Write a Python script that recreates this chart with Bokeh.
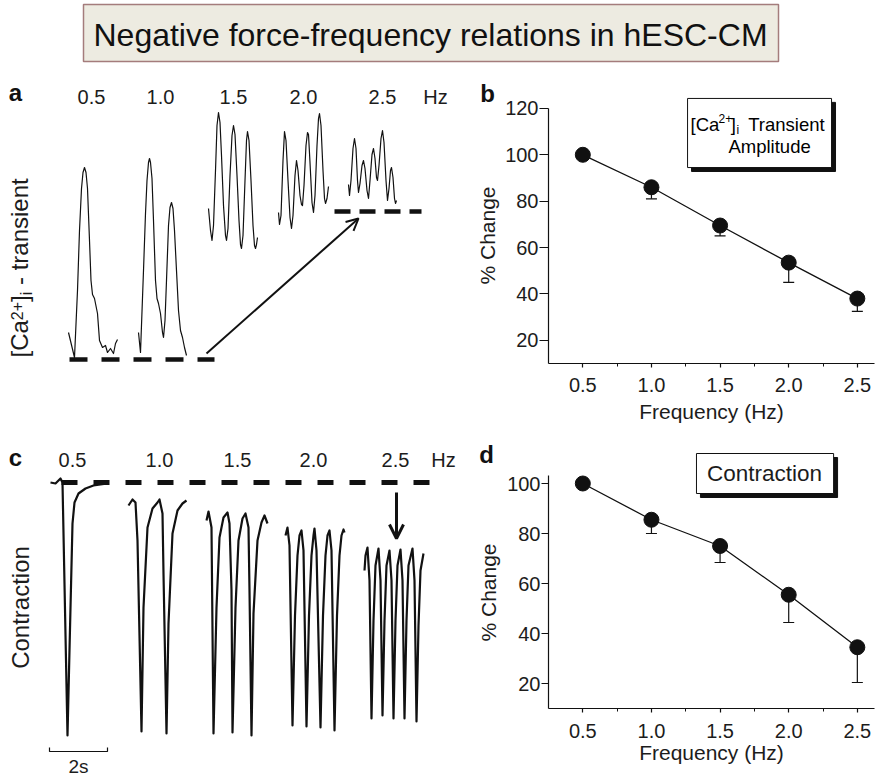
import math
from bokeh.plotting import figure
from bokeh.layouts import column, row
from bokeh.models import (Range1d, Arrow, OpenHead, Label, BoxAnnotation, Whisker,
                          TeeHead, FixedTicker, ColumnDataSource, PrintfTickFormatter)
from bokeh.embed import file_html
from bokeh.resources import INLINE
from bokeh.core.properties import value

FONT = "Liberation Sans"
INK = "#111111"
TXT = "#1c1c1c"

TITLE = "Negative force-frequency relations in hESC-CM"

# ---------------- data ----------------
freq = [0.5, 1.0, 1.5, 2.0, 2.5]
freq_labels = ["0.5", "1.0", "1.5", "2.0", "2.5", "Hz"]

# panel b: [Ca2+]i transient amplitude (% change) and lower error ends
ca_amp = [100, 86, 69.5, 53.5, 38]
ca_amp_low = [100, 81, 65, 45, 32.5]
# panel d: contraction (% change) and lower error ends
contr_amp = [100, 85.5, 75, 55.5, 34.5]
contr_amp_low = [100, 80, 68.4, 44.4, 20.4]

# panel a: calcium transient traces (time a.u., signal a.u.)
ca05_t = [68, 74, 77, 79, 81, 82.5, 84, 85.5, 87, 89, 90.5, 92, 94, 97, 99, 102, 105, 107, 110, 113, 115, 117]
ca05_s = [88, 63, 130, 190, 232, 248, 253, 248, 232, 180, 140, 126, 122, 107, 80, 73, 75, 68, 72, 67, 77, 81]
ca10_t = [138, 140, 143, 145, 146.5, 148, 149, 150, 151.5, 153, 155, 156.5, 158, 160, 162, 163, 164.5,
          166, 168, 169.5, 171, 172.5, 174, 176, 178, 180, 182, 184, 186]
ca10_s = [88, 68, 150, 207, 240, 258, 262, 258, 242, 200, 140, 122, 117, 107, 88, 83, 100,
          140, 195, 213, 218, 212, 190, 150, 110, 90, 83, 73, 65]
ca15_t = [208, 210, 211.5, 213, 215, 216.5, 218, 219.5, 221, 223, 225, 226, 227.5, 229.5, 231.5, 233,
          234.5, 236.5, 238.5, 240, 241, 242.5, 244.5, 246, 247, 248.5, 250.5, 252.5, 254, 255, 256, 257]
ca15_s = [212, 190, 180, 195, 250, 295, 308, 298, 265, 215, 185, 180, 192, 245, 285, 295,
          286, 245, 200, 176, 172, 185, 240, 280, 289, 280, 240, 195, 175, 172, 176, 183]
ca20_t = [278, 279, 280.5, 282.5, 284, 285.5, 287.5, 289.5, 291, 292.5, 294.5, 296, 297.5, 299.5, 301,
          302, 303.5, 305.5, 307, 308, 309.5, 311.5, 313, 314.5, 316.5, 318, 319, 320.5, 322.5, 324,
          325, 326.5, 328]
ca20_s = [208, 196, 205, 260, 289, 280, 240, 203, 192, 205, 245, 260, 250, 225, 216,
          215, 235, 275, 288, 286, 258, 218, 208, 225, 275, 302, 307, 295, 250, 222,
          217, 222, 234]
ca25_t = [348, 349, 350.5, 352.5, 354, 355.5, 357, 358, 359.5, 361.5, 363, 364.5, 366.5, 368, 369.5,
          371.5, 373, 374.5, 376, 377, 378.5, 380.5, 382, 383.5, 385.5, 387, 388.5, 390, 391, 392.5,
          394, 395, 396]
ca25_s = [236, 225, 240, 272, 282, 272, 240, 228, 237, 255, 260, 252, 230, 222, 240,
          266, 272, 262, 243, 240, 255, 282, 290, 278, 240, 220, 232, 250, 253, 243,
          222, 217, 220]

# panel c: contraction traces (time a.u., signal a.u.)
ct05_t = [50, 55, 60, 62, 67, 70, 72, 74, 78, 85, 93, 107]
ct05_s = [295, 294, 299, 295, 42, 170, 254, 275, 284, 289, 292, 294]
ct10_t = [128, 132, 135, 137, 141, 143, 147, 152, 157, 159, 162, 163, 166, 168, 172, 177, 182, 186]
ct10_s = [272, 278, 275, 237, 46, 170, 250, 269, 275, 278, 264, 204, 44, 154, 244, 267, 274, 277]
ct15_t = [206, 208, 211, 213, 216, 219, 223, 227, 229, 231, 232, 235, 238, 242, 245, 248, 249, 251, 253, 257, 261, 264, 267]
ct15_s = [257, 266, 250, 44, 170, 240, 260, 265, 254, 187, 45, 170, 237, 259, 264, 250, 187, 42, 164, 237, 255, 262, 254]
ct20_t = [285, 287, 289, 292, 294.5, 297, 299, 301, 303, 306, 308.5, 311, 313, 314, 316, 320, 322.5, 325, 327, 329, 331, 334, 336.5, 339, 341, 343, 344]
ct20_s = [242, 250, 232, 52, 162, 222, 242, 247, 227, 51, 162, 222, 242, 249, 227, 50, 162, 222, 242, 247, 227, 47, 162, 222, 242, 248, 245]
ct25_t = [364, 365, 367, 369, 371, 373, 375, 378, 380, 382, 384, 386, 389, 391, 393, 395, 397, 400, 402, 404, 406, 408, 412, 414, 416, 418, 420, 423]
ct25_s = [207, 222, 230, 197, 59, 157, 212, 229, 197, 62, 157, 212, 227, 197, 59, 157, 212, 228, 197, 59, 157, 212, 229, 197, 56, 152, 207, 224]


def blank(w, h, xr, yr):
    f = figure(width=w, height=h, x_range=Range1d(*xr), y_range=Range1d(*yr),
               output_backend="svg", toolbar_location=None, min_border=0,
               x_axis_location=None, y_axis_location=None)
    f.grid.visible = False
    f.outline_line_color = None
    f.background_fill_color = "white"
    f.border_fill_color = "white"
    return f


def txt(p, xs, ys, texts, size, angle=0.0, align="center", bold=False, color=TXT):
    p.text(x=xs, y=ys, text=texts, angle=angle, text_font=value(FONT), text_font_size=size,
           text_font_style="bold" if bold else "normal", text_align=align,
           text_baseline="middle", text_color=color)


# ---------------- title ----------------
t = blank(877, 65, (0, 877), (0, 65))
t.add_layout(BoxAnnotation(left=83, right=778, bottom=4, top=61, fill_color="#EDEBE1",
                           fill_alpha=1, line_color="#A47C7C", line_width=1.5, line_alpha=1))
t.add_layout(Label(x=430, y=30.5, text=TITLE, text_font=FONT, text_font_size="32px",
                   text_align="center", text_baseline="middle", text_color=INK))

rot = math.pi / 2
LEFT_W = 502

# ---------------- panel a (plus the letter and y title of panel b) ----------------
pa = blank(LEFT_W, 365, (0, LEFT_W), (-10, 355))
for tt, ss in [(ca05_t, ca05_s), (ca10_t, ca10_s), (ca15_t, ca15_s), (ca20_t, ca20_s), (ca25_t, ca25_s)]:
    pa.line(tt, ss, line_color=INK, line_width=1.2, line_join="round")
pa.line([69, 214], [61, 61], line_color=INK, line_width=4.5, line_dash="18 14")
pa.line([334, 421], [209, 209], line_color=INK, line_width=4.5, line_dash="16 9")
pa.add_layout(Arrow(end=OpenHead(size=12, line_width=2, line_color=INK), x_start=206, y_start=67,
                    x_end=358, y_end=202, line_width=2, line_color=INK))
txt(pa, [91, 160, 233, 303, 382, 435], [324] * 6, freq_labels, "20px")
txt(pa, [15, 487], [328, 327.3], ["a", "b"], "24px", bold=True, color=INK)
# rotated y label [Ca2+]i - transient
txt(pa, [18.7, 18.7], [63, 118.5], ["[Ca", "]"], "24px", angle=rot, align="left")
txt(pa, [16.5], [100.3], ["2+"], "16px", angle=rot, align="left")
txt(pa, [25.5], [125.2], ["i"], "16px", angle=rot, align="left")
txt(pa, [18.7], [135.5], ["- transient"], "24px", angle=rot, align="left")
txt(pa, [487], [185], ["% Change"], "21px", angle=rot)

# ---------------- panel c (plus the letter and y title of panel d) ----------------
pc = blank(LEFT_W, 347, (0, LEFT_W), (0, 347))
for tt, ss in [(ct05_t, ct05_s), (ct10_t, ct10_s), (ct15_t, ct15_s), (ct20_t, ct20_s), (ct25_t, ct25_s)]:
    pc.line(tt, ss, line_color=INK, line_width=2.2, line_join="round")
pc.line([61, 429], [295, 295], line_color=INK, line_width=5, line_dash="16 16")
pc.add_layout(Arrow(end=OpenHead(size=14, line_width=3, line_color=INK), x_start=396, y_start=285,
                    x_end=396, y_end=239, line_width=3, line_color=INK))
txt(pc, [72, 159, 237, 313, 395, 443], [318] * 6, freq_labels, "20px")
txt(pc, [15, 486], [320, 323], ["c", "d"], "24px", bold=True, color=INK)
txt(pc, [19.7], [170], ["Contraction"], "24px", angle=rot)
txt(pc, [488], [185], ["% Change"], "21px", angle=rot)
pc.line([49, 49, 107, 107], [30, 26, 26, 30], line_color=INK, line_width=1.2)
txt(pc, [78], [11.5], ["2s"], "19px")


# ---------------- panels b and d ----------------
def summary(width, height, yr, borders, y_ticks, y_bounds, vals, lows, ytick_out,
            tick_standoff, xlab_standoff):
    p = figure(width=width, height=height, x_range=Range1d(0.25, 2.625), y_range=Range1d(*yr),
               output_backend="svg", toolbar_location=None,
               min_border_left=borders[0], min_border_right=borders[1],
               min_border_top=borders[2], min_border_bottom=borders[3])
    p.grid.visible = False
    p.outline_line_color = None
    p.background_fill_color = "white"
    p.border_fill_color = "white"
    p.xaxis.ticker = FixedTicker(ticks=freq, minor_ticks=[0.75, 1.25, 1.75, 2.25])
    p.xaxis.formatter = PrintfTickFormatter(format="%.1f")
    p.yaxis.ticker = FixedTicker(ticks=y_ticks)
    p.yaxis.bounds = y_bounds
    for ax in (p.xaxis[0], p.yaxis[0]):
        ax.axis_line_color = INK
        ax.axis_line_width = 1.2
        ax.major_tick_line_color = INK
        ax.major_tick_line_width = 1.2
        ax.minor_tick_line_color = INK
        ax.major_tick_in = 0
        ax.minor_tick_in = 0
        ax.major_label_text_font = FONT
        ax.major_label_text_font_size = "20px"
        ax.major_label_text_color = TXT
        ax.axis_label_text_font = FONT
        ax.axis_label_text_font_size = "21px"
        ax.axis_label_text_font_style = "normal"
        ax.axis_label_text_color = TXT
    p.xaxis.major_tick_out = 4
    p.xaxis.minor_tick_out = 3
    p.xaxis.major_label_standoff = tick_standoff
    p.xaxis.axis_label = "Frequency (Hz)"
    p.xaxis.axis_label_standoff = xlab_standoff
    p.yaxis.major_tick_out = ytick_out
    p.yaxis.minor_tick_out = 0
    p.yaxis.major_label_standoff = 1
    src = ColumnDataSource(dict(x=freq, y=vals, lower=lows))
    p.add_layout(Whisker(base="x", upper="y", lower="lower", source=src, dimension="height",
                         line_color=INK, line_width=1.2, upper_head=None,
                         lower_head=TeeHead(size=11, line_color=INK, line_width=1.2)))
    p.line("x", "y", source=src, line_color=INK, line_width=1.3)
    p.scatter("x", "y", source=src, size=15, fill_color=INK, line_color=INK)
    return p


RIGHT_W = 877 - LEFT_W
pb = summary(RIGHT_W, 365, (10, 126), (46, 3, 29, 67), [20, 40, 60, 80, 100, 120],
             (10, 120), ca_amp, ca_amp_low, 9, 10, 5)
pb.add_layout(BoxAnnotation(left=1.292, right=2.341, top=122.6, bottom=92.8, fill_color=INK,
                            fill_alpha=1, line_color=INK, line_alpha=1))
pb.add_layout(BoxAnnotation(left=1.263, right=2.312, top=124.3, bottom=94.5, fill_color="white",
                            fill_alpha=1, line_color=INK, line_width=1, line_alpha=1))
for s, x, y, fs in [("[Ca", 1.285, 113.2, "18.5px"), ("2+", 1.489, 115.5, "12px"),
                    ("]", 1.577, 113.2, "18.5px"), ("i", 1.62, 110.5, "12px"),
                    ("Transient", 1.705, 113.2, "18.5px"), ("Amplitude", 1.561, 103.75, "18.5px")]:
    pb.add_layout(Label(x=x, y=y, text=s, text_font=FONT, text_font_size=fs, text_align="left",
                        text_baseline="middle", text_color="#000000"))

pd_ = summary(RIGHT_W, 347, (10, 113.6), (46, 3, 19, 69), [20, 40, 60, 80, 100],
              (10, 103.2), contr_amp, contr_amp_low, 7, 11, 0)
pd_.add_layout(BoxAnnotation(left=1.357, right=2.356, top=110.4, bottom=94.4, fill_color=INK,
                             fill_alpha=1, line_color=INK, line_alpha=1))
pd_.add_layout(BoxAnnotation(left=1.328, right=2.327, top=112, bottom=96, fill_color="white",
                             fill_alpha=1, line_color=INK, line_width=1, line_alpha=1))
pd_.add_layout(Label(x=1.824, y=104, text="Contraction", text_font=FONT, text_font_size="22.5px",
                     text_align="center", text_baseline="middle", text_color=TXT))

layout = column(t, row(column(pa, pc), column(pb, pd_)))
open("out.html", "w").write(file_html(layout, INLINE))
